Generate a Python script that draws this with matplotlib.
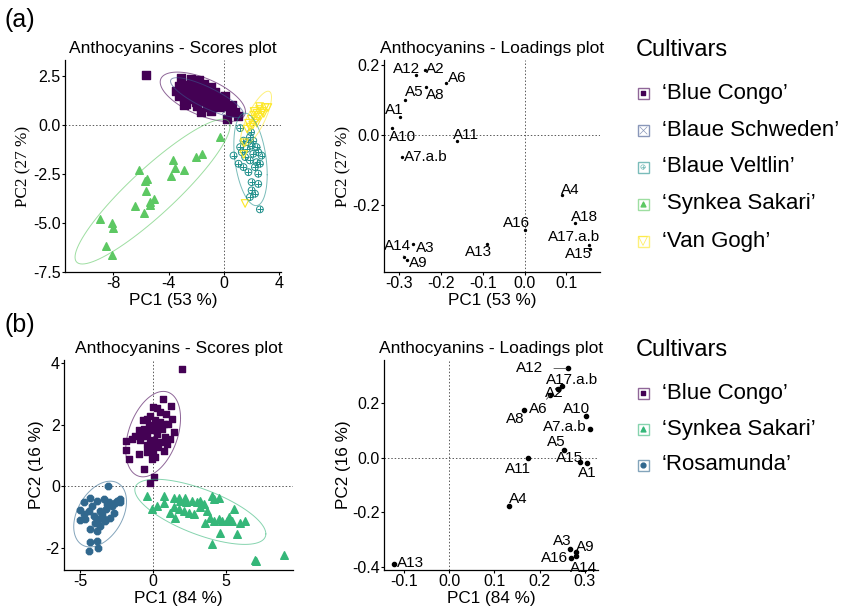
import numpy as np
import matplotlib
matplotlib.use("Agg")
from matplotlib import pyplot as plt
from matplotlib.patches import Rectangle
from matplotlib.ticker import FormatStrFormatter, FixedLocator

plt.rcParams['font.family'] = ['Liberation Sans', 'DejaVu Sans']
plt.rcParams['axes.unicode_minus'] = False

# ---------------- (a) scores ----------------
congo_a_x = [-5.6, -3.1, -2.38, -1.79, -3.21, -2.69, -2.02, -1.43, -0.95, -2.98, -2.5, -1.9, -1.31,
             -0.6, -2.86, -2.26, -1.67, -1.07, -0.24, 0.12, -2.74, -2.02, -1.43, -0.83, -0.36, 0.24,
             0.48, 0.83, 1.07, 0.24, -1.67, -2.38, -1.19, -0.6, -3.21, -3.45, -1.5, -2.14, -0.07,
             0.6, -2.86, -0.95, -1.9]
congo_a_y = [2.55, 2.41, 2.36, 2.33, 1.99, 2.06, 2.02, 2.11, 1.94, 1.72, 1.77, 1.68, 1.72,
             1.68, 1.43, 1.51, 1.43, 1.51, 1.43, 1.51, 1.09, 1.17, 1.21, 1.09, 0.92, 1.0,
             0.75, 0.66, 0.49, 0.32, 0.66, 1.34, 0.92, 1.26, 1.51, 1.77, 1.85, 2.19, 1.17,
             1.04, 1.04, 0.75, 1.0]

schweden_a_x = [-3.2, -2.6, -2.2, -1.8, -1.5, -1.2, -0.9, -0.6, -0.3, 0.1, 0.4, -2.0, -1.4,
                -1.0, -2.4, -0.5, 0.6, -1.7, -2.8, -0.2]
schweden_a_y = [1.9, 1.8, 1.6, 1.7, 1.4, 1.6, 1.3, 1.2, 1.0, 0.8, 0.9, 2.1, 1.9,
                1.1, 1.4, 1.5, 0.7, 1.2, 2.2, 1.3]

veltlin_a_x = [1.19, 1.98, 1.43, 1.9, 2.02, 2.38, 1.67, 1.31, 2.14, 2.5, 1.55, 1.9, 2.38, 1.07,
               0.71, 1.43, 2.26, 1.79, 2.5, 2.02, 2.5, 2.02, 2.26, 1.9, 2.62, 2.74, 1.74, 1.19,
               2.14, 2.62]
veltlin_a_y = [-0.15, -0.36, -0.79, -0.61, -1.04, -1.12, -1.21, -1.38, -1.46, -1.38, -1.63, -1.8,
               -1.89, -1.97, -1.55, -2.14, -2.14, -2.4, -2.48, -2.91, -3.0, -3.33, -3.5, -3.67,
               -4.3, -1.55, -0.87, -1.12, -0.79, -1.97]

synkea_a_x = [-0.26, -1.6, -2.02, -3.64, -3.5, -2.9, -3.79, -6.17, -5.55, -5.71, -5.64, -5.07,
              -5.36, -5.31, -6.45, -5.79, -8.98, -8.1, -8.05, -8.52, -8.1]
synkea_a_y = [-0.61, -1.46, -1.63, -1.8, -2.2, -2.3, -2.6, -2.3, -2.74, -2.86, -3.38, -3.79,
              -3.93, -4.06, -4.13, -4.47, -4.78, -4.98, -5.26, -6.17, -6.61]

vangogh_a_x = [1.8, 2.0, 2.2, 2.4, 2.6, 2.8, 3.0, 2.1, 2.3, 2.5, 2.7, 1.9, 2.2, 2.9, 2.4,
               1.7, 2.6, 3.2, 1.5, 1.45, 1.55]
vangogh_a_y = [0.1, 0.3, 0.5, 0.6, 0.8, 0.7, 0.9, 0.0, 0.2, 0.4, 0.5, -0.1, 0.7, 0.6, 0.1,
               -0.2, 0.95, 0.9, -0.9, -1.5, -4.0]

# ---------------- (a) loadings ----------------
load_a_names = ['A1', 'A2', 'A3', 'A4', 'A5', 'A6', 'A7.a.b', 'A8', 'A9', 'A10', 'A11', 'A12',
                'A13', 'A14', 'A15', 'A16', 'A17.a.b', 'A18']
load_a_pc1 = [-0.298, -0.238, -0.267, 0.090, -0.285, -0.188, -0.293, -0.236, -0.281, -0.315,
              -0.160, -0.258, -0.089, -0.287, 0.157, 0.001, 0.153, 0.121]
load_a_pc2 = [0.053, 0.186, -0.310, -0.171, 0.101, 0.148, -0.063, 0.139, -0.357, 0.022,
              -0.016, 0.172, -0.310, -0.348, -0.323, -0.270, -0.312, -0.251]

# ---------------- (b) scores ----------------
congo_b_x = [1.99, 0.66, 1.23, 0.0, 0.27, 0.5, 0.89, 1.3, -0.18, -0.41, -0.68, 0.16, 0.46, 0.73,
             1.03, -0.3, 0.05, 0.27, -0.98, -0.64, -0.18, 0.62, 1.42, -1.21, -0.75, -0.41, 0.27,
             0.84, -1.44, -0.87, -0.18, 0.09, 0.46, 0.96, 1.19, -1.83, -0.41, -0.07, 0.32, 0.73,
             -0.98, -0.41, 0.0, 0.16, -1.67, -0.07, -0.59, 0.05, -0.18, -1.87]
congo_b_y = [3.8, 2.83, 2.6, 2.58, 2.55, 2.41, 2.36, 2.2, 2.3, 2.2, 2.14, 2.14, 2.09, 2.03,
             2.03, 1.98, 1.95, 1.92, 1.82, 1.87, 1.82, 1.87, 1.78, 1.65, 1.65, 1.65, 1.71,
             1.6, 1.54, 1.49, 1.43, 1.49, 1.43, 1.38, 1.54, 1.47, 1.33, 1.27, 1.27, 1.16,
             1.05, 1.11, 1.05, 0.95, 0.89, 0.89, 0.57, 0.29, 0.1, 1.18]

synkea_b_x = [-0.41, -0.07, 0.78, 1.42, 1.76, 1.87, 2.28, 2.67, 3.01, 3.47, 4.04, 4.5, 4.16,
              0.73, 1.19, 1.53, 1.76, 2.1, 2.44, 2.79, 3.24, 3.7, 3.88, 4.16, 4.5, 4.73, 5.07,
              5.41, 5.53, 5.98, 6.32, 4.61, 5.75, 4.04, 7.01, 7.08, 8.95, 2.21, 3.24, 1.42,
              0.27, 5.18, 3.58]
synkea_b_y = [-0.3, -0.74, -0.3, -0.36, -0.36, -0.47, -0.52, -0.47, -0.52, -0.58, -0.3, -0.36,
              -0.41, -0.55, -0.85, -1.01, -0.74, -0.79, -0.85, -0.9, -0.68, -0.79, -1.01, -1.12,
              -1.07, -1.12, -1.12, -1.12, -0.74, -1.17, -1.12, -1.5, -1.55, -1.86, -2.37, -2.42,
              -2.21, -0.36, -0.47, -0.68, -0.63, -0.98, -1.17]

rosa_b_x = [-3.11, -4.29, -4.75, -4.98, -4.98, -4.41, -4.18, -3.84, -3.38, -3.04, -2.81, -2.47,
            -2.28, -2.58, -3.2, -3.49, -3.72, -3.27, -2.92, -2.69, -4.29, -3.84, -3.61, -4.34,
            -3.84, -3.79, -4.41, -4.75, -3.95, -3.61, -3.15, -4.63, -4.06, -3.38, -2.24]
rosa_b_y = [0.02, -0.36, -0.52, -0.77, -1.1, -0.79, -0.63, -0.47, -0.41, -0.52, -0.63, -0.47,
            -0.41, -0.55, -0.74, -0.9, -1.07, -1.12, -1.01, -0.85, -1.39, -1.45, -1.28, -1.79,
            -1.77, -1.99, -2.1, -0.9, -1.17, -0.79, -0.58, -1.07, -0.96, -1.07, -0.52]

# ---------------- (b) loadings ----------------
load_b_names = ['A1', 'A2', 'A3', 'A4', 'A5', 'A6', 'A7.a.b', 'A8', 'A9', 'A10', 'A11', 'A12',
                'A13', 'A14', 'A15', 'A16', 'A17.a.b']
load_b_pc1 = [0.305, 0.240, 0.268, 0.133, 0.254, 0.224, 0.311, 0.166, 0.281, 0.302, 0.175,
              0.262, -0.121, 0.280, 0.289, 0.270, 0.250]
load_b_pc2 = [-0.021, 0.251, -0.333, -0.178, 0.028, 0.230, 0.106, 0.173, -0.345, 0.152,
              -0.002, 0.325, -0.388, -0.360, -0.015, -0.368, 0.260]

# label placement for the loadings (repelled text positions)
label_a_pos = {'A1': (-0.311, 0.073), 'A2': (-0.213, 0.188), 'A3': (-0.237, -0.321),
               'A4': (0.110, -0.157), 'A5': (-0.263, 0.125), 'A6': (-0.160, 0.164),
               'A7.a.b': (-0.236, -0.063), 'A8': (-0.212, 0.115), 'A9': (-0.253, -0.365),
               'A10': (-0.290, -0.004), 'A11': (-0.140, 0.0), 'A12': (-0.282, 0.188),
               'A13': (-0.110, -0.332), 'A14': (-0.303, -0.316), 'A15': (0.129, -0.340),
               'A16': (-0.020, -0.249), 'A17.a.b': (0.117, -0.291), 'A18': (0.144, -0.232)}
label_b_pos = {'A1': (0.305, -0.058), 'A2': (0.232, 0.235), 'A3': (0.249, -0.305),
               'A4': (0.153, -0.151), 'A5': (0.236, 0.057), 'A6': (0.197, 0.177),
               'A7.a.b': (0.256, 0.111), 'A8': (0.146, 0.140), 'A9': (0.300, -0.326),
               'A10': (0.282, 0.177), 'A11': (0.153, -0.040), 'A12': (0.177, 0.325),
               'A13': (-0.086, -0.385), 'A14': (0.298, -0.404), 'A15': (0.267, -0.002),
               'A16': (0.232, -0.367), 'A17.a.b': (0.271, 0.284)}
leader_a = ['A14']
leader_b = ['A12', 'A6']

C_CONGO = '#440154'
C_SCHW = '#3B528B'
C_VELT = '#21908C'
C_SYNK_A = '#5DC863'
C_VANG = '#FDE725'
C_SYNK_B = '#35B779'
C_ROSA = '#31688E'

W, H = 860, 608
fig = plt.figure(figsize=(W / 100, H / 100), dpi=100)


def add_ax(l, t, r, b):
    ax = fig.add_axes([l / W, 1 - b / H, (r - l) / W, (b - t) / H])
    for s in ['top', 'right']:
        ax.spines[s].set_visible(False)
    for s in ['left', 'bottom']:
        ax.spines[s].set_linewidth(0.9)
    ax.tick_params(direction='out', length=2, width=0.8, pad=1, labelsize=11.5, colors='black')
    ax.axhline(0, color='0.35', lw=0.7, ls=(0, (1.5, 2)), zorder=1)
    ax.axvline(0, color='0.35', lw=0.7, ls=(0, (1.5, 2)), zorder=1)
    return ax


def cov_trob(xy, nu=5, maxit=25, tol=0.01):
    # multivariate t covariance estimate (same as MASS::cov.trob)
    n, p = xy.shape
    loc = xy.mean(axis=0)
    w = np.ones(n)
    for _ in range(maxit):
        w0 = w
        X = xy - loc
        S = (X * (w / w.sum())[:, None]).T @ X
        Q = np.einsum('ij,jk,ik->i', X, np.linalg.inv(S), X)
        w = (nu + p) / (nu + Q)
        loc = (w[:, None] * xy).sum(axis=0) / w.sum()
        if np.all(np.abs(w - w0) < tol):
            break
    cov = (X * w[:, None]).T @ X / n
    return loc, cov


def draw_ellipse(ax, x, y, color, level=0.95):
    xy = np.column_stack([x, y])
    n = len(xy)
    loc, cov = cov_trob(xy)
    dfd = n - 1
    # F(2, dfd) quantile has a closed form
    qf = dfd / 2 * ((1 - level) ** (-2 / dfd) - 1)
    radius = np.sqrt(2 * qf)
    t = np.linspace(0, 2 * np.pi, 101)
    circle = np.column_stack([np.cos(t), np.sin(t)])
    R = np.linalg.cholesky(cov).T
    pts = loc + radius * circle @ R
    ax.plot(pts[:, 0], pts[:, 1], color=color, lw=0.7, alpha=0.6, zorder=4)


def circle_plus(ax, x, y, color, s=24):
    ax.scatter(x, y, s=s, marker='o', facecolors='none', edgecolors=color, linewidths=0.7, zorder=3)
    ax.scatter(x, y, s=s, marker='+', color=color, linewidths=0.7, zorder=3)


def loadings(ax, names, pc1, pc2, pos, leaders, dot):
    ax.scatter(pc1, pc2, s=dot, color='black', zorder=3)
    for nm, px, py in zip(names, pc1, pc2):
        lx, ly = pos[nm]
        if nm in leaders:
            ax.annotate(nm, xy=(px, py), xytext=(lx, ly), ha='center', va='center', fontsize=11,
                        arrowprops=dict(arrowstyle='-', color='0.3', lw=0.6, shrinkA=6, shrinkB=1))
        else:
            ax.text(lx, ly, nm, ha='center', va='center', fontsize=11)


label_kw = dict(fontsize=12.3, labelpad=1)
title_kw = dict(fontsize=12.5, pad=5)

# (a) scores
ax1 = add_ax(65, 60, 281, 272)
ax1.scatter(schweden_a_x, schweden_a_y, s=22, marker='x', color=C_SCHW, linewidths=0.7, alpha=0.7, zorder=2)
ax1.scatter(congo_a_x, congo_a_y, s=26, marker='s', color=C_CONGO, zorder=3)
circle_plus(ax1, veltlin_a_x, veltlin_a_y, C_VELT)
ax1.scatter(synkea_a_x, synkea_a_y, s=30, marker='^', color=C_SYNK_A, zorder=3)
ax1.scatter(vangogh_a_x, vangogh_a_y, s=30, marker='v', facecolors='none', edgecolors=C_VANG,
            linewidths=0.8, zorder=3)
draw_ellipse(ax1, congo_a_x, congo_a_y, C_CONGO)
draw_ellipse(ax1, schweden_a_x, schweden_a_y, C_SCHW)
draw_ellipse(ax1, veltlin_a_x, veltlin_a_y, C_VELT)
draw_ellipse(ax1, synkea_a_x, synkea_a_y, C_SYNK_A)
draw_ellipse(ax1, vangogh_a_x, vangogh_a_y, C_VANG)
ax1.set_xlim(-11.5, 4.15)
ax1.set_ylim(-7.5, 3.33)
ax1.xaxis.set_major_locator(FixedLocator([-8, -4, 0, 4]))
ax1.yaxis.set_major_locator(FixedLocator([-7.5, -5.0, -2.5, 0.0, 2.5]))
ax1.yaxis.set_major_formatter(FormatStrFormatter('%.1f'))
ax1.set_xlabel('PC1 (53 %)', **label_kw)
ax1.set_ylabel('PC2 (27 %)', family='Liberation Serif', **label_kw)
ax1.set_title('Anthocyanins - Scores plot', **title_kw)

# (a) loadings
ax2 = add_ax(384, 60, 600, 272)
loadings(ax2, load_a_names, load_a_pc1, load_a_pc2, label_a_pos, leader_a, 2)
ax2.set_xlim(-0.335, 0.18)
ax2.set_ylim(-0.39, 0.215)
ax2.xaxis.set_major_locator(FixedLocator([-0.3, -0.2, -0.1, 0.0, 0.1]))
ax2.yaxis.set_major_locator(FixedLocator([-0.2, 0.0, 0.2]))
ax2.xaxis.set_major_formatter(FormatStrFormatter('%.1f'))
ax2.yaxis.set_major_formatter(FormatStrFormatter('%.1f'))
ax2.set_xlabel('PC1 (53 %)', **label_kw)
ax2.set_ylabel('PC2 (27 %)', family='Liberation Serif', **label_kw)
ax2.set_title('Anthocyanins - Loadings plot', **title_kw)

# (b) scores
ax3 = add_ax(64, 360, 293, 570)
ax3.scatter(congo_b_x, congo_b_y, s=24, marker='s', color=C_CONGO, zorder=3)
ax3.scatter(synkea_b_x, synkea_b_y, s=30, marker='^', color=C_SYNK_B, zorder=3)
ax3.scatter(rosa_b_x, rosa_b_y, s=24, marker='8', color=C_ROSA, zorder=3)
draw_ellipse(ax3, congo_b_x, congo_b_y, C_CONGO)
draw_ellipse(ax3, synkea_b_x, synkea_b_y, C_SYNK_B)
draw_ellipse(ax3, rosa_b_x, rosa_b_y, C_ROSA)
ax3.set_xlim(-6.1, 9.6)
ax3.set_ylim(-2.71, 4.1)
ax3.xaxis.set_major_locator(FixedLocator([-5, 0, 5]))
ax3.yaxis.set_major_locator(FixedLocator([-2, 0, 2, 4]))
ax3.set_xlabel('PC1 (84 %)', **label_kw)
ax3.set_ylabel('PC2 (16 %)', **label_kw)
ax3.set_title('Anthocyanins - Scores plot', **title_kw)

# (b) loadings
ax4 = add_ax(384, 360, 598, 570)
loadings(ax4, load_b_names, load_b_pc1, load_b_pc2, label_b_pos, leader_b, 9)
ax4.set_xlim(-0.144, 0.329)
ax4.set_ylim(-0.41, 0.356)
ax4.xaxis.set_major_locator(FixedLocator([-0.1, 0.0, 0.1, 0.2, 0.3]))
ax4.yaxis.set_major_locator(FixedLocator([-0.4, -0.2, 0.0, 0.2]))
ax4.xaxis.set_major_formatter(FormatStrFormatter('%.1f'))
ax4.yaxis.set_major_formatter(FormatStrFormatter('%.1f'))
ax4.set_xlabel('PC1 (84 %)', **label_kw)
ax4.set_ylabel('PC2 (16 %)', **label_kw)
ax4.set_title('Anthocyanins - Loadings plot', **title_kw)

# legends and panel letters, laid out in pixel units
lg = fig.add_axes([0, 0, 1, 1])
lg.set_xlim(0, W)
lg.set_ylim(H, 0)
lg.axis('off')
lg.patch.set_alpha(0)


def key(y, color, marker, style):
    lg.add_patch(Rectangle((637.5, y - 5.5), 11, 11, facecolor='white', edgecolor=color,
                           alpha=0.6, lw=1.0))
    if style == 'plus':
        lg.scatter([643], [y], s=10, marker='o', facecolors='none', edgecolors=color, linewidths=0.5, alpha=0.6)
        lg.scatter([643], [y], s=10, marker='+', color=color, linewidths=0.5, alpha=0.6)
    elif style == 'line':
        lg.scatter([643], [y], s=30, marker=marker, color=color, linewidths=0.5, alpha=0.6)
    elif style == 'open':
        lg.scatter([643], [y], s=40, marker=marker, facecolors='none', edgecolors=color,
                   linewidths=0.6, alpha=0.7)
    else:
        lg.scatter([643], [y], s=12, marker=marker, color=color)


legend_a = [('\u2018Blue Congo\u2019', C_CONGO, 's', 'fill'),
            ('\u2018Blaue Schweden\u2019', C_SCHW, 'x', 'line'),
            ('\u2018Blaue Veltlin\u2019', C_VELT, 'o', 'plus'),
            ('\u2018Synkea Sakari\u2019', C_SYNK_A, '^', 'fill'),
            ('\u2018Van Gogh\u2019', C_VANG, 'v', 'open')]
legend_b = [('\u2018Blue Congo\u2019', C_CONGO, 's', 'fill'),
            ('\u2018Synkea Sakari\u2019', C_SYNK_B, '^', 'fill'),
            ('\u2018Rosamunda\u2019', C_ROSA, 'o', 'fill')]

lg.text(636, 50, 'Cultivars', fontsize=17, va='center', ha='left')
for i, (lab, c, m, st) in enumerate(legend_a):
    y = 93 + i * 37
    key(y, c, m, st)
    lg.text(662, y, lab, fontsize=16, va='center', ha='left')

lg.text(636, 350, 'Cultivars', fontsize=17, va='center', ha='left')
for i, (lab, c, m, st) in enumerate(legend_b):
    y = 393 + i * 36
    key(y, c, m, st)
    lg.text(662, y, lab, fontsize=16, va='center', ha='left')

lg.text(5, 20, '(a)', fontsize=18, va='center', ha='left')
lg.text(5, 325, '(b)', fontsize=18, va='center', ha='left')

fig.savefig('out.png', dpi=100)
